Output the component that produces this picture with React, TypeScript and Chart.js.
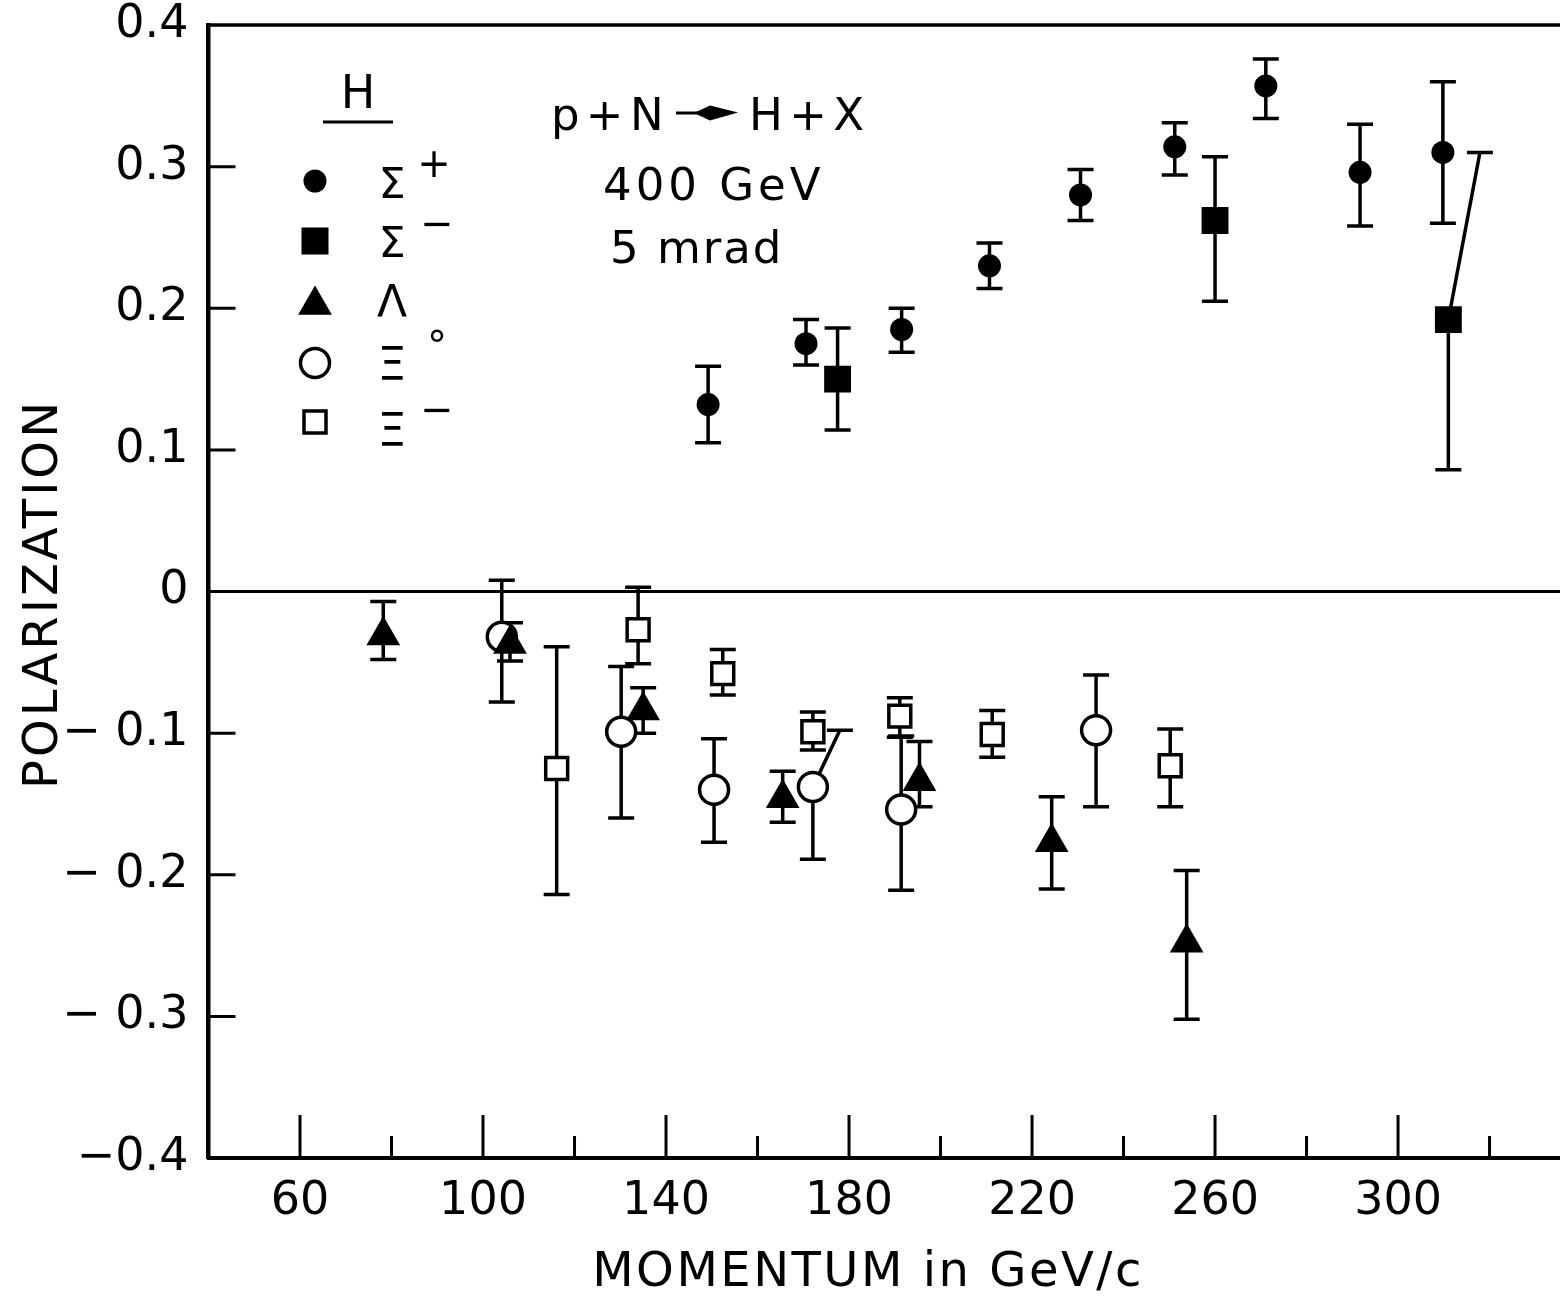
import React, { useEffect, useRef } from 'react';
import { Chart, registerables } from 'chart.js';

Chart.register(...registerables);

const SANS = '"DejaVu Sans", sans-serif';
const GREEK = '"DejaVu Sans", sans-serif';

// ---- axis definitions ----
const X_MIN = 40;
const X_MAX = 335.4;
const Y_MIN = -0.4;
const Y_MAX = 0.4;
const xMajorTicks = [60, 100, 140, 180, 220, 260, 300];
const xMinorTicks = [80, 120, 160, 200, 240, 280, 320];
const yMinorTicks = [-0.3, -0.2, -0.1, 0.1, 0.2, 0.3];

// ---- Σ+ (filled circles) ----
const sigmaPlusP = [149.2, 170.6, 191.5, 210.7, 230.6, 251.2, 271.1, 291.7, 309.8];
const sigmaPlusPol = [0.132, 0.175, 0.185, 0.23, 0.28, 0.314, 0.357, 0.296, 0.31];
const sigmaPlusLo = [0.105, 0.16, 0.169, 0.214, 0.262, 0.294, 0.334, 0.258, 0.26];
const sigmaPlusHi = [0.159, 0.192, 0.2, 0.246, 0.298, 0.331, 0.376, 0.33, 0.36];

// ---- Σ− (filled squares) ----
const sigmaMinusP = [177.5, 260.0, 311.0];
const sigmaMinusPol = [0.15, 0.262, 0.192];
const sigmaMinusLo = [0.114, 0.205, 0.086];
const sigmaMinusHi = [0.186, 0.307, 0.31];
const sigmaMinusHiP = [null, null, 317.9]; // displaced upper error-bar end

// ---- Λ (filled triangles) ----
const lambdaP = [78.2, 105.9, 135.0, 165.5, 195.4, 224.3, 253.8];
const lambdaPol = [-0.031, -0.037, -0.084, -0.146, -0.134, -0.177, -0.248];
const lambdaLo = [-0.048, -0.049, -0.1, -0.163, -0.152, -0.21, -0.302];
const lambdaHi = [-0.007, -0.022, -0.068, -0.127, -0.106, -0.145, -0.197];

// ---- Ξ0 (open circles) ----
const xi0P = [104.1, 130.2, 150.5, 172.1, 191.4, 234.0];
const xi0Pol = [-0.032, -0.099, -0.14, -0.138, -0.154, -0.098];
const xi0Lo = [-0.078, -0.16, -0.177, -0.189, -0.211, -0.152];
const xi0Hi = [0.008, -0.053, -0.104, -0.098, -0.102, -0.059];
const xi0HiP = [null, null, null, 178.0, null, null];

// ---- Ξ− (open squares) ----
const xiMinusP = [116.1, 133.9, 152.4, 172.1, 191.1, 211.3, 250.2];
const xiMinusPol = [-0.125, -0.027, -0.058, -0.099, -0.088, -0.101, -0.123];
const xiMinusLo = [-0.214, -0.051, -0.073, -0.112, -0.103, -0.117, -0.152];
const xiMinusHi = [-0.039, 0.003, -0.041, -0.085, -0.075, -0.084, -0.097];

const zip = (xs: number[], ys: number[]) => xs.map((x, i) => ({ x, y: ys[i] }));

const LW = 3.5;
const CAP = 13;

type Marker = 'dot' | 'fsquare' | 'tri' | 'ocircle' | 'osquare';

function drawMarker(ctx: CanvasRenderingContext2D, m: Marker, x: number, y: number) {
  ctx.save();
  ctx.fillStyle = '#000';
  ctx.strokeStyle = '#000';
  ctx.lineWidth = LW;
  ctx.beginPath();
  if (m === 'dot') {
    ctx.arc(x, y, 11.5, 0, Math.PI * 2);
    ctx.fill();
  } else if (m === 'fsquare') {
    ctx.rect(x - 13.5, y - 13.5, 27, 27);
    ctx.fill();
  } else if (m === 'tri') {
    const r = 19.5;
    ctx.moveTo(x, y - r);
    ctx.lineTo(x + r * Math.sin((2 * Math.PI) / 3), y - r * Math.cos((2 * Math.PI) / 3));
    ctx.lineTo(x - r * Math.sin((2 * Math.PI) / 3), y - r * Math.cos((2 * Math.PI) / 3));
    ctx.closePath();
    ctx.fill();
  } else if (m === 'ocircle') {
    ctx.fillStyle = '#fff';
    ctx.arc(x, y, 14.5, 0, Math.PI * 2);
    ctx.fill();
    ctx.stroke();
  } else {
    ctx.fillStyle = '#fff';
    ctx.rect(x - 11, y - 11, 22, 22);
    ctx.fill();
    ctx.stroke();
  }
  ctx.restore();
}

const framePlugin = {
  id: 'frame',
  beforeDatasetsDraw(chart: any) {
    const { ctx, chartArea, scales } = chart;
    const x = scales.x;
    const y = scales.y;
    ctx.save();
    ctx.strokeStyle = '#000';
    ctx.lineCap = 'butt';
    // top border
    ctx.lineWidth = 3.5;
    const yTop = y.getPixelForValue(Y_MAX);
    ctx.beginPath();
    ctx.moveTo(chartArea.left - 2, yTop);
    ctx.lineTo(chartArea.right, yTop);
    ctx.stroke();
    // zero line
    ctx.lineWidth = 3;
    const y0 = y.getPixelForValue(0);
    ctx.beginPath();
    ctx.moveTo(chartArea.left, y0);
    ctx.lineTo(chartArea.right, y0);
    ctx.stroke();
    // x ticks (inside)
    ctx.lineWidth = 3;
    ctx.beginPath();
    xMajorTicks.forEach((v) => {
      const p = x.getPixelForValue(v);
      ctx.moveTo(p, chartArea.bottom);
      ctx.lineTo(p, chartArea.bottom - 43);
    });
    xMinorTicks.forEach((v) => {
      const p = x.getPixelForValue(v);
      ctx.moveTo(p, chartArea.bottom);
      ctx.lineTo(p, chartArea.bottom - 22);
    });
    // y ticks (inside)
    yMinorTicks.forEach((v) => {
      const p = y.getPixelForValue(v);
      ctx.moveTo(chartArea.left, p);
      ctx.lineTo(chartArea.left + 27, p);
    });
    ctx.stroke();
    ctx.restore();
  },
};

const errorBarPlugin = {
  id: 'errorBars',
  beforeDatasetsDraw(chart: any) {
    const { ctx, scales } = chart;
    const x = scales.x;
    const y = scales.y;
    ctx.save();
    ctx.strokeStyle = '#000';
    ctx.lineWidth = LW;
    ctx.lineCap = 'butt';
    chart.data.datasets.forEach((ds: any) => {
      ds.data.forEach((pt: any, i: number) => {
        const px = x.getPixelForValue(pt.x);
        const py = y.getPixelForValue(pt.y);
        const pLo = y.getPixelForValue(ds.errLo[i]);
        const pHi = y.getPixelForValue(ds.errHi[i]);
        const hx = ds.errHiX && ds.errHiX[i] != null ? x.getPixelForValue(ds.errHiX[i]) : px;
        ctx.beginPath();
        ctx.moveTo(px, pLo);
        ctx.lineTo(px, py);
        ctx.lineTo(hx, pHi);
        ctx.moveTo(px - CAP, pLo);
        ctx.lineTo(px + CAP, pLo);
        ctx.moveTo(hx - CAP, pHi);
        ctx.lineTo(hx + CAP, pHi);
        ctx.stroke();
      });
    });
    ctx.restore();
  },
};

const annotationPlugin = {
  id: 'annotations',
  afterDraw(chart: any) {
    const { ctx } = chart;
    ctx.save();
    ctx.fillStyle = '#000';
    ctx.strokeStyle = '#000';

    // Legend title "H" underlined
    ctx.font = `46px ${SANS}`;
    ctx.textAlign = 'center';
    ctx.textBaseline = 'alphabetic';
    ctx.fillText('H', 358, 108);
    ctx.lineWidth = 3;
    ctx.beginPath();
    ctx.moveTo(323, 122);
    ctx.lineTo(393, 122);
    ctx.stroke();

    // Legend rows
    const rows: { m: Marker; my: number; g: string; gs: number; gy: number; sup: string; sx: number; sy: number }[] = [
      { m: 'dot', my: 181, g: 'Σ', gs: 43, gy: 198, sup: '+', sx: 434, sy: 167 },
      { m: 'fsquare', my: 241, g: 'Σ', gs: 43, gy: 257, sup: '−', sx: 437, sy: 227 },
      { m: 'tri', my: 305, g: 'Λ', gs: 44, gy: 317, sup: '', sx: 0, sy: 0 },
      { m: 'ocircle', my: 363, g: 'Ξ', gs: 46, gy: 380, sup: '°', sx: 437, sy: 350 },
      { m: 'osquare', my: 422, g: 'Ξ', gs: 46, gy: 446, sup: '−', sx: 437, sy: 413 },
    ];
    rows.forEach((r) => {
      drawMarker(ctx, r.m, 315, r.my);
      ctx.font = `${r.gs}px ${GREEK}`;
      ctx.textAlign = 'center';
      ctx.textBaseline = 'alphabetic';
      ctx.fillText(r.g, 392, r.gy);
      if (r.sup) {
        ctx.font = `40px ${SANS}`;
        ctx.textBaseline = 'middle';
        ctx.fillText(r.sup, r.sx, r.sy);
      }
    });

    // Reaction text
    ctx.textBaseline = 'alphabetic';
    ctx.textAlign = 'left';
    ctx.font = `45px ${SANS}`;
    (ctx as any).letterSpacing = '-4px';
    ctx.fillText('p + N', 551, 130);
    ctx.fillText('H + X', 749, 130);
    (ctx as any).letterSpacing = '4px';
    ctx.fillText('400 GeV', 603, 200);
    (ctx as any).letterSpacing = '2px';
    ctx.fillText('5 mrad', 610, 263);
    (ctx as any).letterSpacing = '0px';
    // arrow
    ctx.lineWidth = 3;
    ctx.beginPath();
    ctx.moveTo(676, 113);
    ctx.lineTo(705, 113);
    ctx.stroke();
    ctx.beginPath();
    ctx.moveTo(694, 113);
    ctx.lineTo(710, 105.5);
    ctx.lineTo(738, 112.5);
    ctx.lineTo(710, 120.5);
    ctx.closePath();
    ctx.fill();

    // Axis titles
    ctx.font = `48px ${SANS}`;
    ctx.textAlign = 'center';
    ctx.textBaseline = 'middle';
    (ctx as any).letterSpacing = '2.5px';
    ctx.fillText('MOMENTUM in GeV/c', 868, 1274);
    ctx.save();
    ctx.translate(45, 594);
    ctx.rotate(-Math.PI / 2);
    (ctx as any).letterSpacing = '3px';
    ctx.fillText('POLARIZATION', 0, 0);
    ctx.restore();
    (ctx as any).letterSpacing = '0px';
    ctx.restore();
  },
};

function formatY(v: number) {
  const r = Math.round(v * 10) / 10;
  if (r === 0) return '0';
  if (r < 0) return (r <= -0.4 ? '−' : '− ') + Math.abs(r).toFixed(1);
  return r.toFixed(1);
}

export default function App() {
  const ref = useRef<HTMLCanvasElement | null>(null);

  useEffect(() => {
    if (!ref.current) return;
    const chart = new Chart(ref.current, {
      type: 'scatter',
      data: {
        datasets: [
          {
            label: 'Σ+',
            data: zip(sigmaPlusP, sigmaPlusPol),
            pointStyle: 'circle',
            pointRadius: 11.5,
            backgroundColor: '#000',
            borderColor: '#000',
            borderWidth: 0,
            errLo: sigmaPlusLo,
            errHi: sigmaPlusHi,
          } as any,
          {
            label: 'Σ−',
            data: zip(sigmaMinusP, sigmaMinusPol),
            pointStyle: 'rect',
            pointRadius: 19,
            backgroundColor: '#000',
            borderColor: '#000',
            borderWidth: 0,
            errLo: sigmaMinusLo,
            errHi: sigmaMinusHi,
            errHiX: sigmaMinusHiP,
          } as any,
          {
            label: 'Λ',
            data: zip(lambdaP, lambdaPol),
            pointStyle: 'triangle',
            pointRadius: 19.5,
            backgroundColor: '#000',
            borderColor: '#000',
            borderWidth: 0,
            errLo: lambdaLo,
            errHi: lambdaHi,
          } as any,
          {
            label: 'Ξ0',
            data: zip(xi0P, xi0Pol),
            pointStyle: 'circle',
            pointRadius: 14.5,
            backgroundColor: '#fff',
            borderColor: '#000',
            borderWidth: LW,
            errLo: xi0Lo,
            errHi: xi0Hi,
            errHiX: xi0HiP,
          } as any,
          {
            label: 'Ξ−',
            data: zip(xiMinusP, xiMinusPol),
            pointStyle: 'rect',
            pointRadius: 15.5,
            backgroundColor: '#fff',
            borderColor: '#000',
            borderWidth: LW,
            errLo: xiMinusLo,
            errHi: xiMinusHi,
          } as any,
        ],
      },
      options: {
        responsive: false,
        animation: false,
        devicePixelRatio: 1,
        layout: { autoPadding: false, padding: { top: 25, right: 0, bottom: 0, left: 0 } },
        plugins: {
          legend: { display: false },
          tooltip: { enabled: false },
          title: { display: false },
        },
        scales: {
          x: {
            type: 'linear',
            min: X_MIN,
            max: X_MAX,
            grid: { drawOnChartArea: false, drawTicks: false },
            border: { display: true, color: '#000', width: 4 },
            ticks: {
              stepSize: 20,
              autoSkip: false,
              maxRotation: 0,
              padding: 19,
              color: '#000',
              font: { family: SANS, size: 46, lineHeight: 1.1 },
              callback: (v: any) => {
                const n = Math.round(Number(v) * 1000) / 1000;
                return xMajorTicks.includes(n) ? String(n) : '';
              },
            },
            afterFit: (s: any) => {
              s.height = 142;
              s.paddingLeft = 0;
              s.paddingRight = 0;
              s.paddingTop = 0;
              s.paddingBottom = 0;
            },
          },
          y: {
            type: 'linear',
            min: Y_MIN,
            max: Y_MAX,
            grid: { drawOnChartArea: false, drawTicks: false },
            border: { display: true, color: '#000', width: 4.5 },
            ticks: {
              stepSize: 0.1,
              autoSkip: false,
              padding: 20,
              color: '#000',
              font: { family: SANS, size: 46, lineHeight: 1.05 },
              callback: (v: any) => formatY(Number(v)),
            },
            afterFit: (s: any) => {
              s.width = 208.5;
              s.paddingLeft = 0;
              s.paddingRight = 0;
              s.paddingTop = 0;
              s.paddingBottom = 0;
            },
          },
        },
      } as any,
      plugins: [framePlugin, errorBarPlugin, annotationPlugin],
    });
    return () => chart.destroy();
  }, []);

  return (
    <div style={{ position: 'fixed', left: 0, top: 0, width: 1560, height: 1300, background: '#fff', overflow: 'hidden' }}>
      <canvas ref={ref} width={1560} height={1300} style={{ display: 'block' }} />
    </div>
  );
}
